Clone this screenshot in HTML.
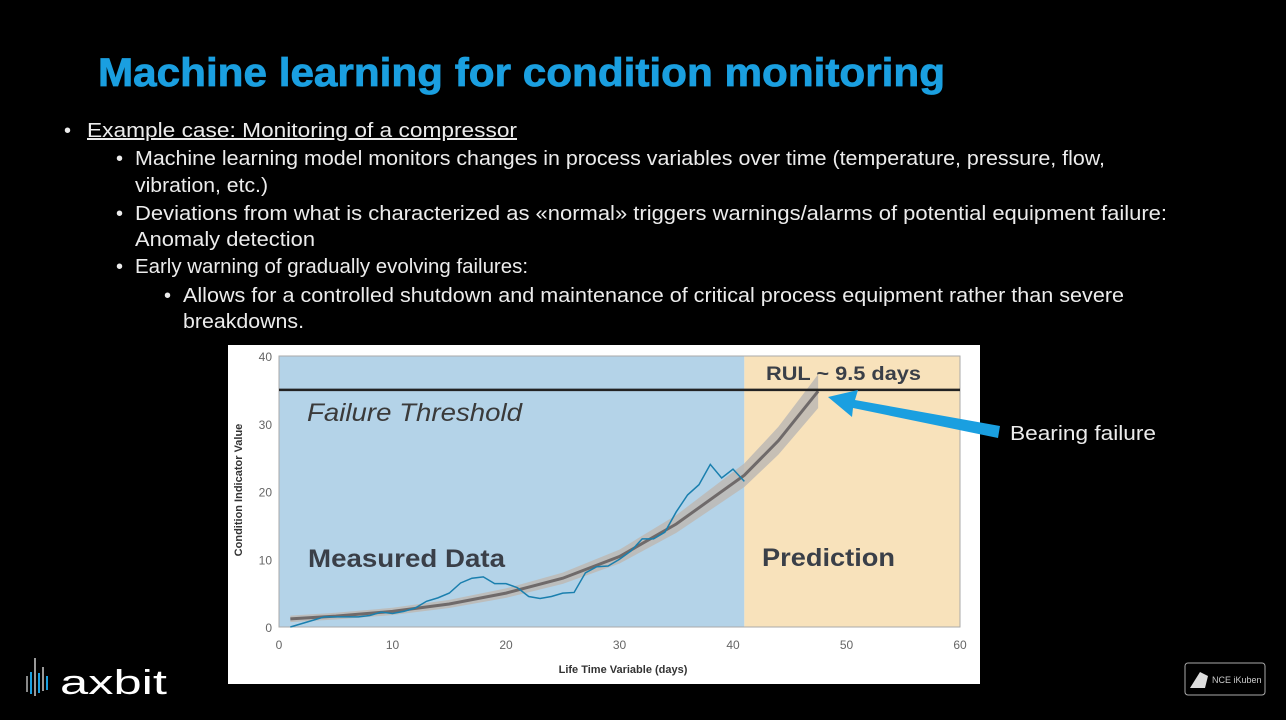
<!DOCTYPE html>
<html><head><meta charset="utf-8"><style>
html,body{margin:0;padding:0;background:#000;width:1286px;height:720px;overflow:hidden}
svg{display:block}
.t{font-family:"Liberation Sans",sans-serif;fill:#ececec;font-size:20px}
</style></head><body>
<svg id="s" width="1286" height="720" viewBox="0 0 1286 720">
<text x="98" y="86" textLength="847" lengthAdjust="spacingAndGlyphs" font-family="Liberation Sans, sans-serif" font-weight="bold" font-size="40" fill="#1a9fe0" stroke="#1a9fe0" stroke-width="0.8">Machine learning for condition monitoring</text>
<g>
<text class="t" x="64" y="137">•</text>
<text class="t" x="87" y="137" textLength="430" lengthAdjust="spacingAndGlyphs" text-decoration="underline">Example case: Monitoring of a compressor</text>
<text class="t" x="116" y="165">•</text>
<text class="t" x="135" y="165" textLength="970" lengthAdjust="spacingAndGlyphs">Machine learning model monitors changes in process variables over time (temperature, pressure, flow,</text>
<text class="t" x="135" y="192" textLength="133" lengthAdjust="spacingAndGlyphs">vibration, etc.)</text>
<text class="t" x="116" y="220">•</text>
<text class="t" x="135" y="220" textLength="1032" lengthAdjust="spacingAndGlyphs">Deviations from what is characterized as «normal» triggers warnings/alarms of potential equipment failure:</text>
<text class="t" x="135" y="246" textLength="180" lengthAdjust="spacingAndGlyphs">Anomaly detection</text>
<text class="t" x="116" y="273">•</text>
<text class="t" x="135" y="273" textLength="393" lengthAdjust="spacingAndGlyphs">Early warning of gradually evolving failures:</text>
<text class="t" x="164" y="302">•</text>
<text class="t" x="183" y="302" textLength="941" lengthAdjust="spacingAndGlyphs">Allows for a controlled shutdown and maintenance of critical process equipment rather than severe</text>
<text class="t" x="183" y="328" textLength="121" lengthAdjust="spacingAndGlyphs">breakdowns.</text>
</g>
<g id="chart">
<rect x="228" y="345" width="752" height="339" fill="#fff"/>
</g>
<g>
<polygon points="1000,426 855,400 858,390 828,397 852,417 853,408 998,438" fill="#1a9fe0"/>
<text class="t" x="1010" y="440" textLength="146" lengthAdjust="spacingAndGlyphs">Bearing failure</text>
</g>
<g>
<rect x="26" y="676" width="2" height="16" fill="#888"/><rect x="30" y="672" width="2" height="22" fill="#1a9fe0"/><rect x="34" y="658" width="2" height="38" fill="#999"/><rect x="38" y="673" width="2" height="20" fill="#1a9fe0"/><rect x="42" y="667" width="2" height="24" fill="#999"/><rect x="46" y="676" width="2" height="14" fill="#1a9fe0"/>
<text x="60" y="694" font-family="Liberation Sans, sans-serif" font-size="34" fill="#fff" textLength="107" lengthAdjust="spacingAndGlyphs">axbit</text>
</g>
<g>
<rect x="1185" y="663" width="80" height="32" rx="3" fill="#000" stroke="#aaa" stroke-width="1"/>
<text x="1212" y="683" font-family="Liberation Sans, sans-serif" font-size="9" fill="#ccc">NCE iKuben</text>
<path d="M1190 688 L1200 672 L1208 676 L1205 688 Z" fill="#ddd"/>
</g>
</svg>
<script>
const days=[1,2,3,4,5,6,7,8,9,10,11,12,13,14,15,16,17,18,19,20,21,22,23,24,25,26,27,28,29,30,31,32,33,34,35,36,37,38,39,40,41];
const measured=[0,0.5,1,1.5,1.5,1.5,1.5,1.7,2.2,2,2.3,2.8,3.8,4.3,5,6.5,7.2,7.4,6.4,6.4,5.8,4.5,4.2,4.5,5,5.1,8,8.9,9,10,11.2,13,13,14,17,19.5,21,24,22,23.3,21.5];
const fitDays=[1,5,10,15,20,25,30,35,41,44,47.5];
const fitValues=[1.2,1.6,2.3,3.4,5.0,7.2,10.4,15.2,22.4,27.5,34.8];
const xTicks=[0,10,20,30,40,50,60];
const yTicks=[0,10,20,30,40];
const threshold=35, splitDay=41;
const NS="http://www.w3.org/2000/svg";
const g=document.getElementById('chart');
const X=v=>279+(v/60)*681, Y=v=>627-(v/40)*271;
function mk(t,a,p){const e=document.createElementNS(NS,t);for(const k in a)e.setAttribute(k,a[k]);(p||g).appendChild(e);return e;}
let r=mk('rect',{x:X(0),y:Y(40),width:X(splitDay)-X(0),height:Y(0)-Y(40),fill:'#b4d3e8'});


r=mk('rect',{x:X(splitDay),y:Y(40),width:X(60)-X(splitDay),height:Y(0)-Y(40),fill:'#f8e2bb'});


mk('rect',{x:X(0),y:Y(40),width:X(60)-X(0),height:Y(0)-Y(40),fill:'none',stroke:'#aaa','stroke-width':1});
let up=fitDays.map((d,i)=>X(d)+','+Y(fitValues[i]*1.06+0.4));
let lo=fitDays.map((d,i)=>X(d)+','+Y(fitValues[i]*0.94-0.4)).reverse();
let band=mk('polygon',{points:up.concat(lo).join(' '),fill:'#bdb8b4',opacity:0.85});


let fit=mk('polyline',{points:fitDays.map((d,i)=>X(d)+','+Y(fitValues[i])).join(' '),fill:'none',stroke:'#6f6a6a','stroke-width':3});


let ml=mk('polyline',{points:days.map((d,i)=>X(d)+','+Y(measured[i])).join(' '),fill:'none',stroke:'#1a7fae','stroke-width':1.5});


let th=mk('line',{x1:X(0),x2:X(60),y1:Y(threshold),y2:Y(threshold),stroke:'#222','stroke-width':2.5});


xTicks.forEach(v=>{let t=mk('text',{x:X(v),y:649,'text-anchor':'middle','font-family':'Liberation Sans, sans-serif','font-size':12,fill:'#666'});t.textContent=v;

});
yTicks.forEach(v=>{let t=mk('text',{x:272,y:Y(v)+5,'text-anchor':'end','font-family':'Liberation Sans, sans-serif','font-size':12,fill:'#666'});t.textContent=v;

});
function lab(txt,x,y,sz,w,st,fill,name,anchor,len){let a={x:x,y:y,'font-family':'Liberation Sans, sans-serif','font-size':sz,'font-weight':w,'font-style':st,fill:fill,'text-anchor':anchor||'start'};if(len){a.textLength=len;a.lengthAdjust='spacingAndGlyphs';}let t=mk('text',a);t.textContent=txt;

return t;}
lab('Failure Threshold',307,421,25,'normal','italic','#3a3a3a','failure-threshold-label','start',215);
lab('Measured Data',308,567,25,'bold','normal','#3a3f48','measured-data-label','start',197);
lab('Prediction',762,566,25,'bold','normal','#3a3f48','prediction-label','start',133);
lab('RUL ~ 9.5 days',766,380,19,'bold','normal','#3a3f48','rul-label','start',155);
lab('Life Time Variable (days)',623,673,11,'bold','normal','#333','x-axis-title','middle');
let yt=lab('Condition Indicator Value',0,0,11,'bold','normal','#333','y-axis-title','middle');
yt.setAttribute('transform','translate(242,490) rotate(-90)');
</script>
</body></html>
